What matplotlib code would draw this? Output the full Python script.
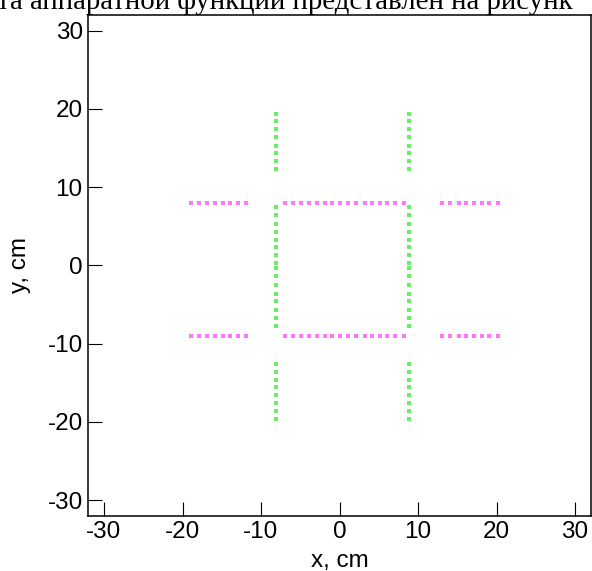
import matplotlib
matplotlib.use("Agg")
import matplotlib.pyplot as plt

# Green vertical dotted segments (x, y)
green_x_left = -8.1
green_x_right = 8.9
green_y = [19.4, 18.4, 17.4, 16.4, 15.3, 14.3, 13.3, 12.3,
           7.4, 6.4, 5.3, 4.3, 3.3, 2.3, 1.3, 0.3,
           -0.4, -1.4, -2.5, -3.6, -4.6, -5.7, -6.7, -7.7,
           -12.6, -13.6, -14.6, -15.6, -16.6, -17.6, -18.6, -19.6]

# Magenta horizontal dotted segments
mag_y_top = 8.0
mag_y_bottom = -9.0
mag_x = [-18.9, -17.9, -16.9, -15.9, -14.9, -13.9, -12.9, -11.9,
         -6.9, -5.9, -4.9, -3.9, -2.9, -1.9, -0.9, 0.1,
         1.1, 2.1, 3.2, 4.1, 5.1, 6.1, 7.1, 8.2,
         13.1, 14.1, 15.2, 16.1, 17.1, 18.1, 19.1, 20.2]

ticks = [-30, -20, -10, 0, 10, 20, 30]
tick_labels = ["-30", "-20", "-10", "0", "10", "20", "30"]

fig = plt.figure(figsize=(5.92, 5.71), dpi=100)
ax = fig.add_axes([88.3 / 592, 1 - 515.7 / 571, (590.7 - 88.3) / 592, (515.7 - 15) / 571])

green = "#66f066"
magenta = "#ff77ff"
for gx in (green_x_left, green_x_right):
    ax.plot([gx] * len(green_y), green_y, linestyle="none", marker="s",
            markersize=2.3, color=green, markeredgewidth=0)
for my in (mag_y_top, mag_y_bottom):
    ax.plot(mag_x, [my] * len(mag_x), linestyle="none", marker="s",
            markersize=2.3, color=magenta, markeredgewidth=0)

ax.set_xlim(-32, 32)
ax.set_ylim(-32, 32)
ax.set_xticks(ticks)
ax.set_xticklabels(tick_labels)
ax.set_yticks(ticks)
ax.set_yticklabels(tick_labels)
ax.tick_params(direction="in", length=10, width=0.8, labelsize=17.5,
               top=False, right=False, pad=4, colors="black")
for lab in ax.get_xticklabels() + ax.get_yticklabels():
    lab.set_fontfamily("Liberation Sans")
for sp in ax.spines.values():
    sp.set_linewidth(1.1)

ax.set_xlabel("x, cm", fontsize=17.5, fontfamily="Liberation Sans", labelpad=5)
ax.set_ylabel("y, cm", fontsize=17.5, fontfamily="Liberation Sans", labelpad=12)

fig.text(-0.005, 0.997, "та аппаратной функции представлен на рисунк",
         fontsize=20.8, fontfamily="Liberation Serif", ha="left", va="center")

fig.savefig("out.png", dpi=100)
